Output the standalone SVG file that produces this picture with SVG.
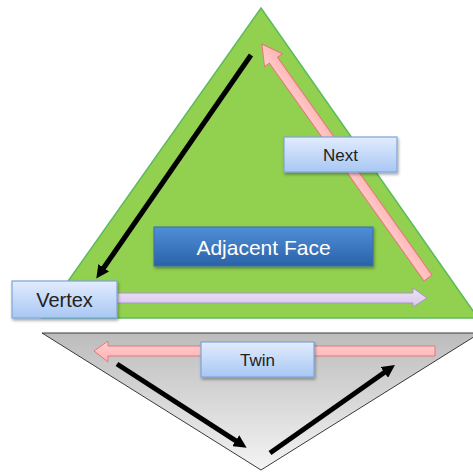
<svg xmlns="http://www.w3.org/2000/svg" width="473" height="472" viewBox="0 0 473 472">
<defs>
<linearGradient id="boxg" x1="0" y1="0" x2="0" y2="1"><stop offset="0" stop-color="#e2ecfd"/><stop offset="1" stop-color="#a8c7f4"/></linearGradient>
<linearGradient id="faceg" x1="0" y1="0" x2="0" y2="1"><stop offset="0" stop-color="#4f8fd8"/><stop offset="1" stop-color="#2a62a8"/></linearGradient>
<linearGradient id="grayg" x1="0" y1="0" x2="0" y2="1"><stop offset="0" stop-color="#bcbcbc"/><stop offset="1" stop-color="#f4f4f4"/></linearGradient>
<linearGradient id="pinkg" x1="0" y1="0" x2="0" y2="1"><stop offset="0" stop-color="#ffd0d0"/><stop offset="1" stop-color="#ffb0b0"/></linearGradient>
<linearGradient id="lavg" x1="0" y1="0" x2="0" y2="1"><stop offset="0" stop-color="#ece2f6"/><stop offset="1" stop-color="#d8c8ec"/></linearGradient>
<filter id="sh" x="-10%" y="-10%" width="130%" height="140%"><feDropShadow dx="1" dy="2" stdDeviation="1.5" flood-color="#000" flood-opacity="0.35"/></filter>
<marker id="ah" viewBox="0 0 10 10" refX="3" refY="5" markerWidth="2.6" markerHeight="2.6" orient="auto" markerUnits="strokeWidth"><path d="M0,0 L10,5 L0,10 z" fill="#000"/></marker>
</defs>
<style>
.box{fill:url(#boxg);stroke:#7fa6d9;stroke-width:1.2}
.lbl{font-family:"Liberation Sans",Arial,sans-serif;fill:#222;text-anchor:middle;dominant-baseline:central}
.blk{stroke:#000;stroke-width:5;fill:none;marker-end:url(#ah)}
.pink{fill:url(#pinkg);stroke:#e07a7a;stroke-width:1}
.lav{fill:url(#lavg);stroke:#a894c8;stroke-width:1}
</style>
<g id="face-triangle"><polygon points="261,8 478,318 42,318" fill="#92d050" stroke="#5dbb5d" stroke-width="1.5"/></g>
<g id="twin-triangle"><polygon points="42,333 480,333 261,470" fill="url(#grayg)" stroke="#3a3a3a" stroke-width="1"/></g>
<g id="connectors">
<line class="blk" x1="251" y1="55" x2="101.5" y2="271"/>
<polygon class="pink" transform="translate(428,278) rotate(-125.36)" points="0,-5 267,-5 267,-11 287,0 267,11 267,5 0,5"/>
<polygon class="lav" points="117,293 413,293 413,288 427,298 413,307 413,303 117,303"/>
<polygon class="pink" points="435,346 108,346 108,341 94,351 108,362 108,356 435,356"/>
<line class="blk" x1="117" y1="364" x2="239" y2="442.8"/>
<line class="blk" x1="270" y1="453" x2="387.5" y2="370.2"/>
</g>
<g id="next"><rect class="box" x="284" y="137" width="113" height="35" filter="url(#sh)"/><text class="lbl" x="340.5" y="155" font-size="17">Next</text></g>
<g id="adjacent-face"><rect x="154" y="227" width="219" height="39" fill="url(#faceg)" stroke="#3a6ea5" stroke-width="1" filter="url(#sh)"/><text class="lbl" x="263.5" y="247" font-size="21" style="fill:#fff">Adjacent Face</text></g>
<g id="vertex"><rect class="box" x="12" y="281" width="105" height="37" filter="url(#sh)"/><text class="lbl" x="64.5" y="300" font-size="20">Vertex</text></g>
<g id="twin"><rect class="box" x="201" y="342" width="113" height="35" filter="url(#sh)"/><text class="lbl" x="257.5" y="360" font-size="17">Twin</text></g>
</svg>
